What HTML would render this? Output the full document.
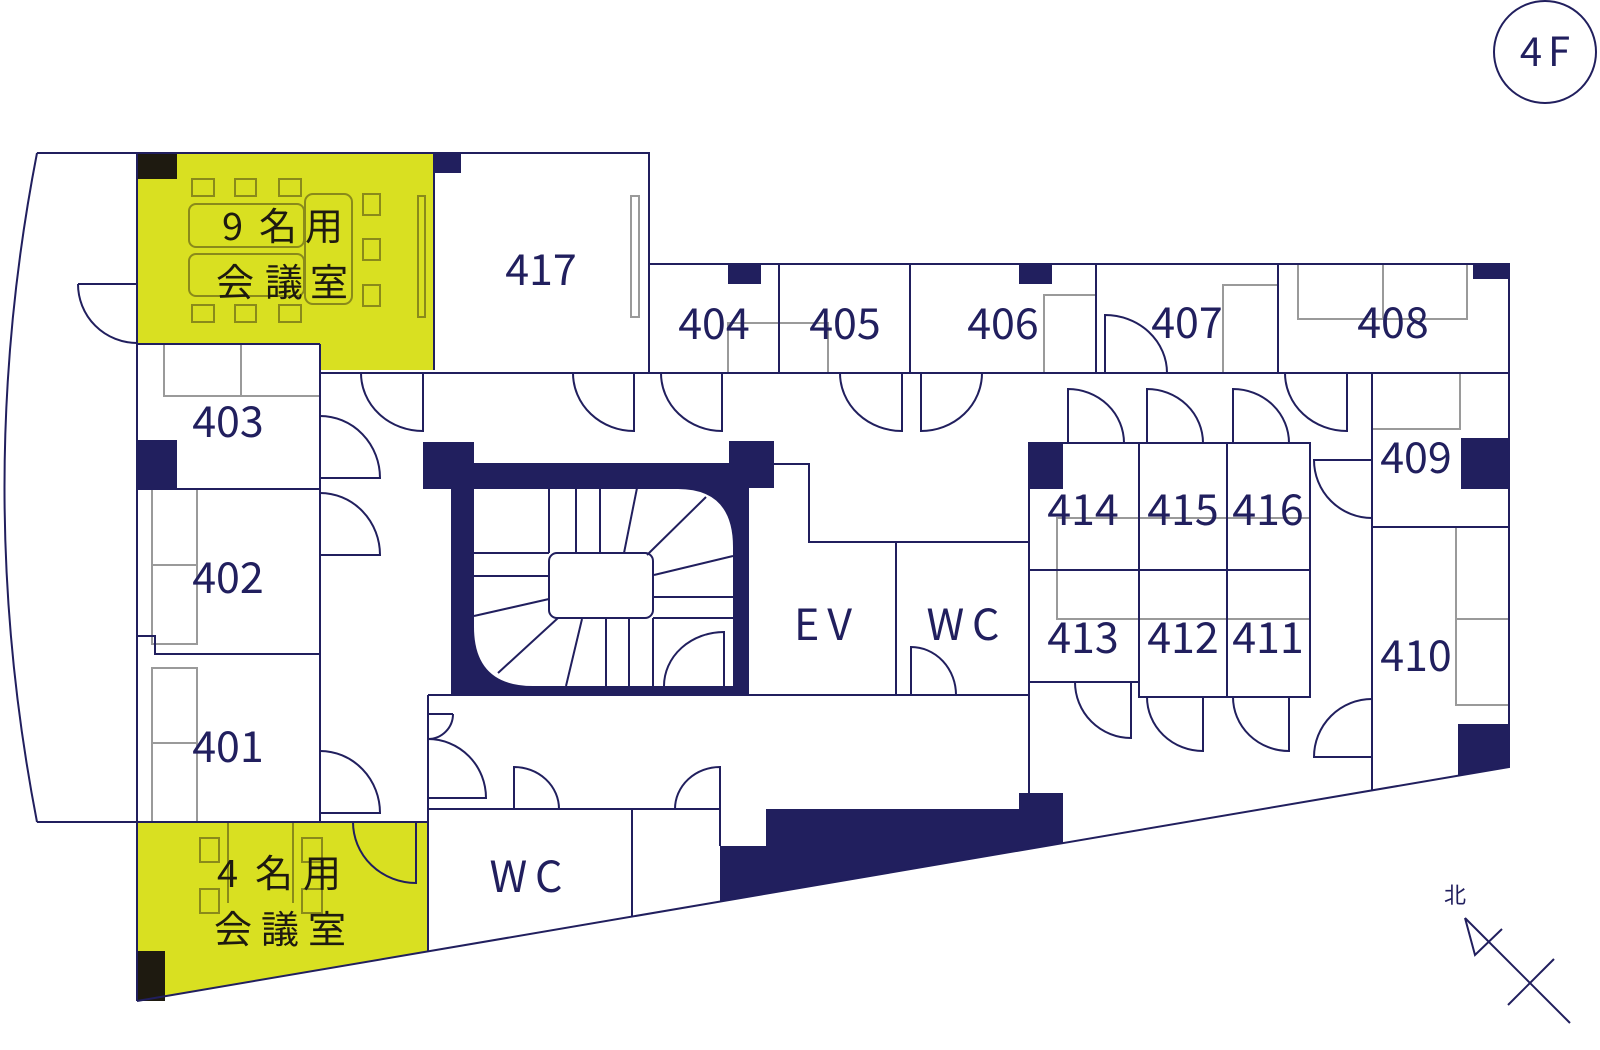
<!DOCTYPE html>
<html><head><meta charset="utf-8"><style>
html,body{margin:0;padding:0;background:#fff;}
svg{display:block;}
text{font-family:"Noto Sans CJK JP","Liberation Sans",sans-serif;}
</style></head><body>
<svg width="1600" height="1050" viewBox="0 0 1600 1050" xmlns="http://www.w3.org/2000/svg">
<g fill="none" stroke="#211f5e" stroke-width="2">
<!-- yellow rooms -->
<polygon points="137,153 434,153 434,370 320,370 320,344 137,344" fill="#d9e021" stroke="none"/>
<polygon points="137,822 428,822 428,951 137,1001" fill="#d9e021" stroke="none"/>
<rect x="137" y="153" width="40" height="26" fill="#1e1a10" stroke="none"/>
<rect x="137" y="951" width="28" height="50" fill="#1e1a10" stroke="none"/>
<!-- olive furniture 9 -->
<g stroke="#8a8a1a" stroke-width="2">
<rect x="192" y="179" width="22" height="17"/><rect x="235" y="179" width="21" height="17"/><rect x="279" y="179" width="22" height="17"/>
<rect x="192" y="305" width="22" height="17"/><rect x="235" y="305" width="21" height="17"/><rect x="279" y="305" width="22" height="17"/>
<rect x="363" y="194" width="17" height="21"/><rect x="363" y="239" width="17" height="21"/><rect x="363" y="285" width="17" height="21"/>
<rect x="189" y="204" width="115" height="43" rx="7"/><rect x="189" y="254" width="115" height="42" rx="7"/>
<rect x="305" y="194" width="47" height="110" rx="8"/>
<rect x="418" y="196" width="7" height="121"/>
<line x1="228" y1="822" x2="228" y2="903"/><line x1="293" y1="822" x2="293" y2="903"/>
<rect x="200" y="838" width="19" height="24"/><rect x="200" y="889" width="19" height="24"/>
<rect x="302" y="838" width="20" height="24"/><rect x="302" y="889" width="20" height="24"/>
</g>
<!-- navy blocks -->
<g fill="#211f5e" stroke="none">
<rect x="434" y="153" width="27" height="20"/>
<rect x="138" y="440" width="39" height="49"/>
<rect x="728" y="264" width="33" height="20"/>
<rect x="1019" y="264" width="33" height="20"/>
<rect x="1473" y="264" width="36" height="15"/>
<rect x="1461" y="438" width="48" height="51"/>
<polygon points="1458,724 1509,724 1509,767 1458,776"/>
<rect x="1029" y="443" width="34" height="46"/>
<polygon points="720,846 766,846 766,809 1019,809 1019,793 1063,793 1063,843 720,901"/>
<!-- stair shaft -->
<rect x="423" y="442" width="51" height="47"/>
<rect x="729" y="441" width="45" height="47"/>
<rect x="451" y="463" width="298" height="232"/>
</g>
<path d="M474,489 H678 Q733,489 733,547 V686 H533 Q474,686 474,627 Z" fill="#fff" stroke="none"/>
<!-- gray furniture -->
<g stroke="#9a9a9a">
<rect x="631" y="196" width="8" height="121"/>
<polyline points="164,344 164,396 320,396"/><line x1="241" y1="344" x2="241" y2="396"/>
<polyline points="152,489 152,644 197,644 197,489"/><line x1="152" y1="565" x2="197" y2="565"/>
<polyline points="152,821 152,668 197,668 197,821"/><line x1="152" y1="743" x2="197" y2="743"/>
<polyline points="728,373 728,323 828,323 828,373"/>
<polyline points="1044,373 1044,295 1095,295"/>
<polyline points="1223,373 1223,285 1278,285"/>
<polyline points="1298,264 1298,319 1467,319 1467,264"/><line x1="1383" y1="264" x2="1383" y2="319"/>
<polyline points="1372,429 1460,429 1460,373"/>
<polyline points="1509,527 1456,527 1456,705 1509,705"/><line x1="1456" y1="619" x2="1509" y2="619"/>
<rect x="1057" y="518" width="253" height="101"/>
</g>
<!-- outer walls -->
<path d="M37,153 Q-28,487 37,822"/>
<polyline points="37,153 649,153 649,373"/>
<line x1="37" y1="822" x2="428" y2="822"/>
<line x1="137" y1="153" x2="137" y2="1001"/>
<polyline points="649,264 1509,264 1509,767 137,1001"/>
<line x1="434" y1="153" x2="434" y2="370"/>
<polyline points="320,370 320,373 1509,373"/>
<line x1="320" y1="344" x2="320" y2="822"/>
<line x1="137" y1="344" x2="320" y2="344"/>
<line x1="137" y1="489" x2="320" y2="489"/>
<polyline points="137,636 155,636 155,654 320,654"/>
<line x1="779" y1="264" x2="779" y2="373"/>
<line x1="910" y1="264" x2="910" y2="373"/>
<line x1="1096" y1="264" x2="1096" y2="373"/>
<line x1="1278" y1="264" x2="1278" y2="373"/>
<line x1="1372" y1="373" x2="1372" y2="790"/>
<line x1="1372" y1="527" x2="1509" y2="527"/>
<!-- cluster -->
<rect x="1029" y="443" width="281" height="127"/>
<polyline points="1029,570 1029,682 1139,682"/>
<polyline points="1139,443 1139,697 1310,697 1310,570"/>
<line x1="1227" y1="443" x2="1227" y2="697"/>
<line x1="1029" y1="682" x2="1029" y2="793"/>
<!-- EV/WC -->
<polyline points="774,464 809,464 809,542 1029,542"/>
<line x1="896" y1="542" x2="896" y2="695"/>
<line x1="428" y1="695" x2="1029" y2="695"/>
<line x1="428" y1="695" x2="428" y2="951"/>
<line x1="428" y1="809" x2="720" y2="809"/>
<line x1="632" y1="809" x2="632" y2="917"/>
<line x1="720" y1="809" x2="720" y2="846"/>
<!-- stairs -->
<rect x="549" y="553" width="104" height="65" rx="8"/>
<line x1="549" y1="489" x2="549" y2="553"/><line x1="576" y1="489" x2="576" y2="553"/><line x1="600" y1="489" x2="600" y2="553"/>
<line x1="637" y1="488" x2="624" y2="553"/><line x1="706" y1="497" x2="647" y2="555"/>
<line x1="733" y1="556" x2="654" y2="575"/>
<line x1="653" y1="597" x2="733" y2="597"/><line x1="653" y1="618" x2="733" y2="618"/>
<line x1="474" y1="553" x2="549" y2="553"/><line x1="474" y1="576" x2="549" y2="576"/>
<line x1="474" y1="616" x2="549" y2="599"/>
<line x1="498" y1="673" x2="558" y2="618"/><line x1="566" y1="686" x2="582" y2="619"/>
<line x1="606" y1="618" x2="606" y2="686"/><line x1="629" y1="618" x2="629" y2="686"/><line x1="653" y1="618" x2="653" y2="686"/>
<!-- doors -->
<path d="M78,284 H137 M78,284 A59,59 0 0 0 137,343"/>
<path d="M320,416 A60,62 0 0 1 380,478 H320"/>
<path d="M320,493 A60,62 0 0 1 380,555 H320"/>
<path d="M320,751 A60,62 0 0 1 380,813 H320"/>
<path d="M416,822 V883 A63,61 0 0 1 353,822"/>
<path d="M423,373 V431 A62,58 0 0 1 361,373"/>
<path d="M634,373 V431 A61,58 0 0 1 573,373"/>
<path d="M722,373 V431 A61,58 0 0 1 661,373"/>
<path d="M902,373 V431 A62,58 0 0 1 840,373"/>
<path d="M921,373 V431 A61,58 0 0 0 982,373"/>
<path d="M1105,373 V315 A62,58 0 0 1 1167,373"/>
<path d="M1347,373 V431 A62,58 0 0 1 1285,373"/>
<path d="M1372,460 H1314 A58,58 0 0 0 1372,518"/>
<path d="M1372,757 H1314 A58,58 0 0 1 1372,699"/>
<path d="M1068,443 V389 A56,54 0 0 1 1124,443"/>
<path d="M1147,443 V389 A56,54 0 0 1 1203,443"/>
<path d="M1233,443 V389 A56,54 0 0 1 1289,443"/>
<path d="M1131,682 V738 A56,56 0 0 1 1075,682"/>
<path d="M1203,697 V751 A56,54 0 0 1 1147,697"/>
<path d="M1289,697 V751 A56,54 0 0 1 1233,697"/>
<path d="M724,686 V632 A60,54 0 0 0 664,686"/>
<path d="M911,695 V647 A45,48 0 0 1 956,695"/>
<path d="M453,714 H428 M453,714 A25,25 0 0 1 428,739"/>
<path d="M428,739 A58,59 0 0 1 486,798 H428"/>
<path d="M514,809 V767 A45,42 0 0 1 559,809"/>
<path d="M720,809 V767 A45,42 0 0 0 675,809"/>
<!-- 4F circle & compass -->
<circle cx="1545" cy="52" r="51"/>
<line x1="1465" y1="918" x2="1570" y2="1023"/>
<polyline points="1465,918 1475,955 1502,929"/>
<line x1="1554" y1="959" x2="1508" y2="1005"/>
</g>
<!-- labels -->
<g fill="#1e1a10" font-size="38">
<text x="222" y="240">9</text><text x="259" y="240">名</text><text x="305" y="240">用</text>
<text x="216" y="296">会</text><text x="265" y="296">議</text><text x="310" y="296">室</text>
<text x="217" y="887">4</text><text x="255" y="887">名</text><text x="303" y="887">用</text>
<text x="214" y="943">会</text><text x="261" y="943">議</text><text x="308" y="943">室</text>
</g>
<g fill="#211f5e" font-size="43" text-anchor="middle">
<text x="541" y="285">417</text>
<text x="228" y="437">403</text>
<text x="228" y="593">402</text>
<text x="228" y="762">401</text>
<text x="714" y="339">404</text>
<text x="845" y="339">405</text>
<text x="1003" y="339">406</text>
<text x="1187" y="338">407</text>
<text x="1393" y="338">408</text>
<text x="1416" y="473">409</text>
<text x="1416" y="671">410</text>
<text x="1083" y="525">414</text>
<text x="1183" y="525">415</text>
<text x="1268" y="525">416</text>
<text x="1083" y="653">413</text>
<text x="1183" y="653">412</text>
<text x="1268" y="653">411</text>
<text x="827" y="640" letter-spacing="8">EV</text>
<text x="967" y="640" letter-spacing="8">WC</text>
<text x="530" y="892" letter-spacing="8">WC</text>
<text x="1548" y="66" font-size="40" letter-spacing="6">4F</text>
<text x="1455" y="903" font-size="22">北</text>
</g>
</svg>
</body></html>
